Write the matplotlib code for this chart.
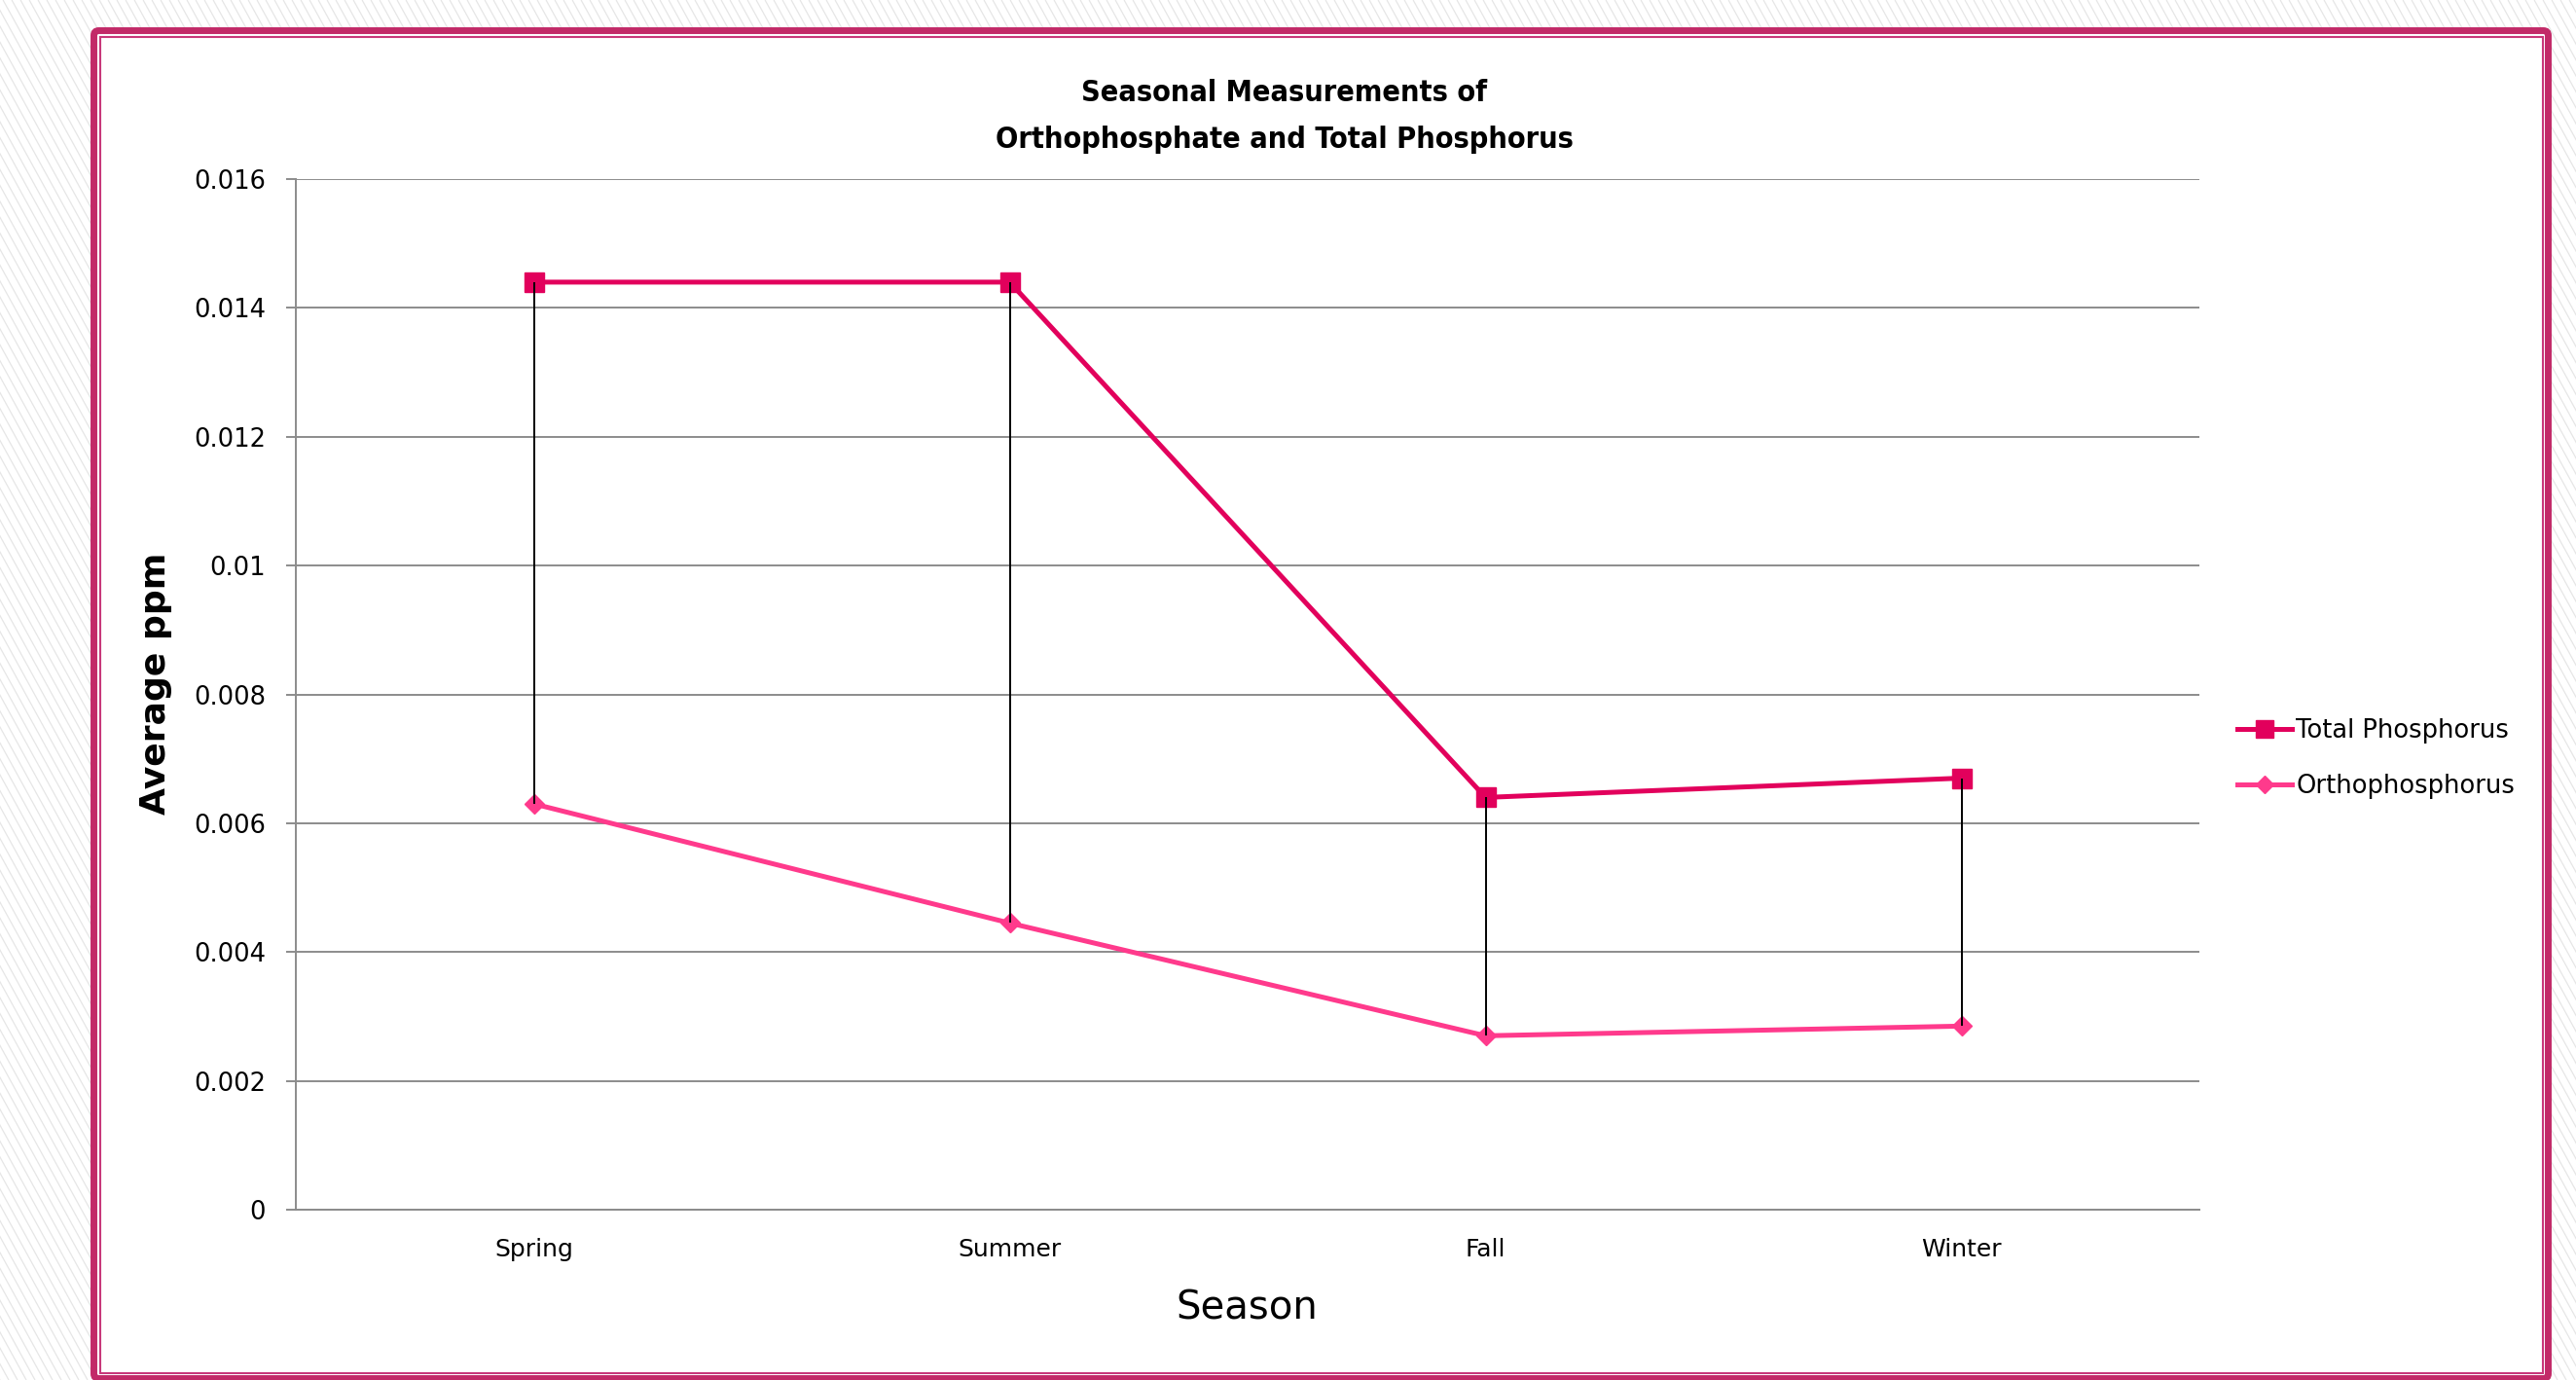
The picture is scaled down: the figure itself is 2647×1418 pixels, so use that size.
import matplotlib
matplotlib.use("Agg")
import matplotlib.pyplot as plt
from matplotlib.patches import FancyBboxPatch
from matplotlib.collections import LineCollection
import numpy as np

# Seasonal averages (ppm)
seasons = ["Spring", "Summer", "Fall", "Winter"]
total_phosphorus = [0.0144, 0.0144, 0.0064, 0.0067]
orthophosphorus = [0.0063, 0.00445, 0.0027, 0.00285]
y_ticks = [0, 0.002, 0.004, 0.006, 0.008, 0.01, 0.012, 0.014, 0.016]
y_tick_labels = ["0", "0.002", "0.004", "0.006", "0.008", "0.01", "0.012", "0.014", "0.016"]

W, H = 2647, 1418
DPI = 100
plt.rcParams["font.family"] = ["DejaVu Sans"]

fig = plt.figure(figsize=(W / DPI, H / DPI), dpi=DPI)

# Page background: fine diagonal hatching with a framed white panel (pixel coords)
bg = fig.add_axes([0, 0, 1, 1], zorder=-10)
bg.set_xlim(0, W)
bg.set_ylim(H, 0)
bg.axis("off")
slope = 0.55
segs = [[(x0, 0), (x0 + H * slope, H)] for x0 in np.arange(-H * slope, W + 10, 9)]
bg.add_collection(LineCollection(segs, colors="#e6e6e6", linewidths=0.9, zorder=1))

frame_color = "#c22a68"
outer = FancyBboxPatch((96.5, 31.5), 2618.5 - 96.5, 1416.5 - 31.5,
                       boxstyle="round,pad=0,rounding_size=5",
                       facecolor="white", edgecolor=frame_color, linewidth=5.0,
                       zorder=3)
bg.add_patch(outer)
inner = FancyBboxPatch((103, 38), 2612.5 - 103, 1410.5 - 38,
                       boxstyle="square,pad=0",
                       facecolor="none", edgecolor="#c8387a", linewidth=1.5,
                       zorder=4)
bg.add_patch(inner)

# Main plot area
ax = fig.add_axes([304 / W, (H - 1243) / H, (2260 - 304) / W, (1243 - 184) / H])
ax.set_facecolor("none")
x = np.arange(len(seasons))

l_total, = ax.plot(x, total_phosphorus, color="#e2005c", lw=3.6, marker="s",
                   ms=14, zorder=4, label="Total Phosphorus")
l_ortho, = ax.plot(x, orthophosphorus, color="#ff3a8c", lw=3.6, marker="D",
                   ms=10.5, zorder=4, label="Orthophosphorus")
ax.vlines(x, orthophosphorus, total_phosphorus, color="black", lw=1.4, zorder=5)

ax.set_xlim(-0.5, 3.5)
ax.set_ylim(0, 0.016)
ax.set_xticks(x, seasons)
ax.set_yticks(y_ticks, y_tick_labels)

grid_color = "#8c8c8c"
ax.yaxis.grid(True, color=grid_color, lw=1.4)
ax.set_axisbelow(True)
for side in ("top", "right"):
    ax.spines[side].set_visible(False)
for side in ("left", "bottom"):
    ax.spines[side].set_color(grid_color)
    ax.spines[side].set_linewidth(1.4)
ax.tick_params(axis="y", length=7.2, width=1.4, color=grid_color, pad=15,
               labelsize=18.5, labelcolor="black")
ax.tick_params(axis="x", length=0, pad=21, labelsize=18, labelcolor="black")

# Titles and axis labels
fig.text(1320 / W, 1 - 96 / H, "Seasonal Measurements of", ha="center", va="center",
         fontsize=22, fontweight="bold", fontstretch="condensed")
fig.text(1320 / W, 1 - 143 / H, "Orthophosphate and Total Phosphorus", ha="center",
         va="center", fontsize=22, fontweight="bold", fontstretch="condensed")
fig.text(160 / W, 1 - 702 / H, "Average ppm", rotation=90, ha="center", va="center",
         fontsize=26, fontweight="bold")
fig.text(1281 / W, 1 - 1345 / H, "Season", ha="center", va="center", fontsize=29)

fig.legend(handles=[l_total, l_ortho], loc="center left",
           bbox_to_anchor=(2299 / W, 1 - 779.5 / H), frameon=False,
           fontsize=18.5, handlelength=2.18, handletextpad=0.16,
           borderpad=0, borderaxespad=0, labelspacing=1.2, markerscale=0.9)

fig.savefig("out.png", dpi=DPI)
